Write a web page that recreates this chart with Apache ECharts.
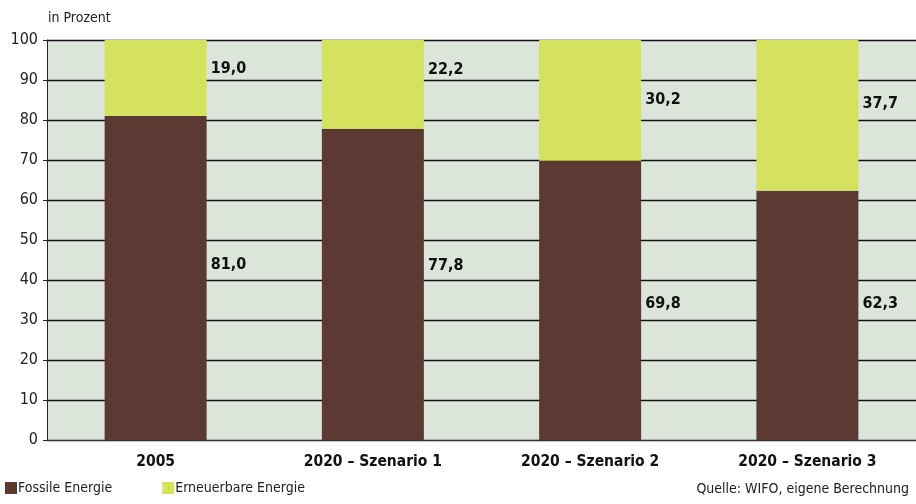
<!DOCTYPE html>
<html>
<head>
<meta charset="utf-8">
<script src="https://cdn.jsdelivr.net/npm/echarts@6/dist/echarts.min.js"></script>
<style>
html,body{margin:0;padding:0;background:#fff;}
#c{width:916px;height:504px;}
</style>
</head>
<body>
<div id="c"></div>
<script>
const categories = ['2005', '2020 – Szenario 1', '2020 – Szenario 2', '2020 – Szenario 3'];
const fossil = [81.0, 77.8, 69.8, 62.3];
const renewable = [19.0, 22.2, 30.2, 37.7];
const yTicks = [0, 10, 20, 30, 40, 50, 60, 70, 80, 90, 100];

const FONT = "'Liberation Sans Narrow','DejaVu Sans Condensed','Roboto Condensed','Arial Narrow',sans-serif";
const fossilOffsets = [-13, -19, 3, -12];
const renewOffsets = [-9, -15, -1, -12];
const fmt = v => v.toFixed(1).replace('.', ',');

const chart = echarts.init(document.getElementById('c'));
chart.setOption({
  animation: false,
  textStyle: { fontFamily: FONT },
  title: [
    { text: 'in Prozent', left: 43, top: 6, textStyle: { fontFamily: FONT, fontSize: 14, fontWeight: 'normal', color: '#222' } },
    { text: 'Quelle: WIFO, eigene Berechnung', right: 2, bottom: 3, textStyle: { fontFamily: FONT, fontSize: 14, fontWeight: 'normal', color: '#222' } }
  ],
  legend: {
    left: 0, bottom: 4, itemWidth: 12, itemHeight: 12, itemGap: 50, icon: 'rect',
    textStyle: { fontFamily: FONT, fontSize: 14, color: '#222', padding: [0, 0, 0, -4] },
    data: ['Fossile Energie', 'Erneuerbare Energie']
  },
  grid: { left: 47, right: 0, top: 40, bottom: 64, show: true, backgroundColor: '#dce5da', borderWidth: 0 },
  xAxis: {
    type: 'category', data: categories,
    axisLine: { lineStyle: { color: '#333', width: 1.2 } },
    axisTick: { show: false },
    axisLabel: { fontFamily: FONT, fontSize: 15.5, fontWeight: 'bold', color: '#111', margin: 14 }
  },
  yAxis: {
    type: 'value', min: 0, max: 100, interval: 10,
    axisLine: { show: true, lineStyle: { color: '#222', width: 1 } },
    axisTick: { show: true, length: 4, lineStyle: { color: '#222' } },
    axisLabel: { fontFamily: FONT, fontSize: 16, color: '#222', margin: 9,
      formatter: v => yTicks.includes(v) ? String(v) : '' },
    splitLine: { lineStyle: { color: '#111', width: 1.3 } }
  },
  series: [
    {
      name: 'Fossile Energie', type: 'bar', stack: 'a', barWidth: 102,
      itemStyle: { color: '#5c3a33' },
      label: { show: true, position: 'right', distance: 4, fontFamily: FONT, fontSize: 16, fontWeight: 'bold', color: '#111',
        formatter: p => fmt(p.value) },
      data: fossil.map((v, i) => ({ value: v, label: { offset: [0, fossilOffsets[i]] } }))
    },
    {
      name: 'Erneuerbare Energie', type: 'bar', stack: 'a', barWidth: 102,
      itemStyle: { color: '#d4e260' },
      label: { show: true, position: 'right', distance: 4, fontFamily: FONT, fontSize: 16, fontWeight: 'bold', color: '#111',
        formatter: p => fmt(p.value) },
      data: renewable.map((v, i) => ({ value: v, label: { offset: [0, renewOffsets[i]] } }))
    }
  ]
});
</script>
</body>
</html>
